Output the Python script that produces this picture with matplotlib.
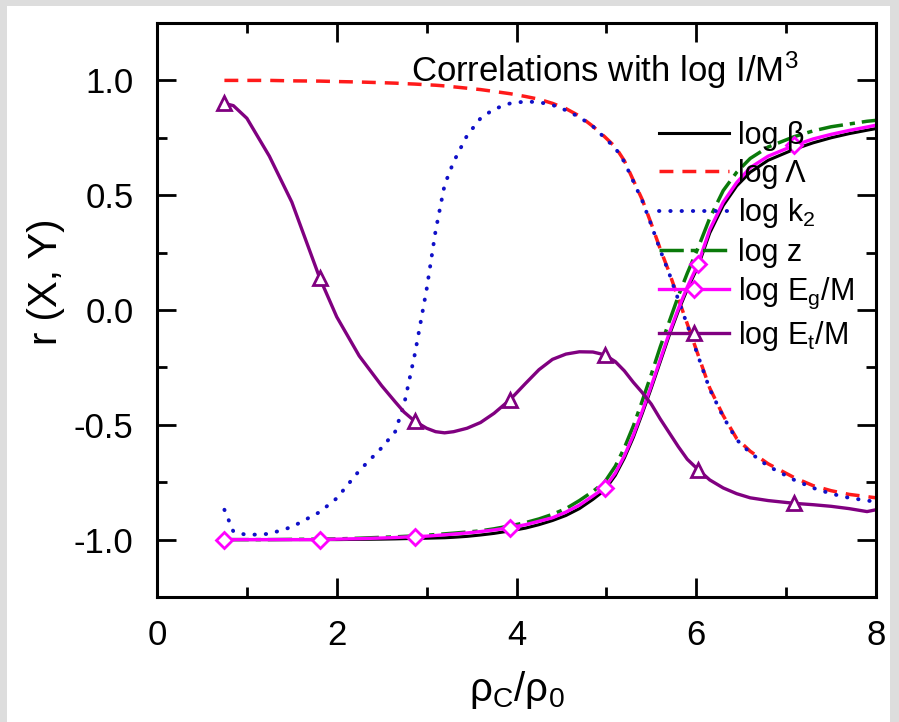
import numpy as np
import matplotlib
matplotlib.use("Agg")
import matplotlib.pyplot as plt
from matplotlib.patches import Rectangle

plt.rcParams['font.family'] = ['Liberation Sans', 'DejaVu Sans']
plt.rcParams['mathtext.fontset'] = 'custom'
plt.rcParams['mathtext.rm'] = 'Liberation Sans'
plt.rcParams['mathtext.it'] = 'Liberation Sans:italic'
plt.rcParams['mathtext.default'] = 'regular'

# rho_C / rho_0 grid
rho = [0.75, 0.85, 1.0, 1.25, 1.5, 1.81, 2.0, 2.25, 2.5, 2.65, 2.75, 2.87,
       3.0, 3.1, 3.2, 3.3, 3.45, 3.6, 3.75, 3.93, 4.1, 4.25, 4.4, 4.55,
       4.7, 4.85, 4.98, 5.1, 5.2, 5.3, 5.4, 5.5, 5.6, 5.7, 5.8, 5.9,
       6.02, 6.15, 6.3, 6.45, 6.6, 6.8, 7.09, 7.3, 7.5, 7.7, 7.9, 8.0]

# marker positions on the curves
mark_x = [0.75, 1.81, 2.87, 3.93, 4.98, 6.02, 7.09]

r_beta = [-1.0, -1.0, -1.0, -1.0, -1.0, -1.0, -1.0, -0.999, -0.998, -0.997, -0.996, -0.995,
          -0.994, -0.993, -0.992, -0.99, -0.986, -0.98, -0.973, -0.962, -0.95, -0.935, -0.917, -0.895,
          -0.865, -0.825, -0.785, -0.72, -0.645, -0.555, -0.45, -0.34, -0.225, -0.11, -0.005, 0.09,
          0.19, 0.335, 0.455, 0.54, 0.6, 0.652, 0.70, 0.728, 0.75, 0.768, 0.783, 0.79]

r_lambda = [1.0, 1.0, 1.0, 1.0, 0.998, 0.997, 0.995, 0.993, 0.99, 0.988, 0.986, 0.984,
            0.981, 0.979, 0.976, 0.972, 0.966, 0.96, 0.952, 0.942, 0.93, 0.918, 0.9, 0.877,
            0.845, 0.80, 0.755, 0.71, 0.65, 0.565, 0.48, 0.375, 0.265, 0.163, 0.05, -0.06,
            -0.195, -0.34, -0.46, -0.56, -0.615, -0.67, -0.73, -0.765, -0.787, -0.803, -0.813, -0.818]

r_k2 = [-0.87, -0.965, -0.98, -0.975, -0.945, -0.88, -0.82, -0.70, -0.60, -0.53, -0.41, -0.19,
        0.09, 0.345, 0.545, 0.645, 0.76, 0.835, 0.875, 0.9, 0.908, 0.905, 0.893, 0.87,
        0.84, 0.80, 0.75, 0.705, 0.645, 0.56, 0.475, 0.37, 0.26, 0.158, 0.045, -0.065,
        -0.2, -0.345, -0.465, -0.565, -0.622, -0.68, -0.74, -0.775, -0.80, -0.818, -0.83, -0.835]

r_z = [-1.0, -1.0, -1.0, -1.0, -0.999, -0.998, -0.997, -0.994, -0.99, -0.988, -0.986, -0.984,
       -0.981, -0.978, -0.975, -0.972, -0.967, -0.962, -0.953, -0.94, -0.926, -0.91, -0.89, -0.865,
       -0.83, -0.79, -0.75, -0.68, -0.60, -0.505, -0.395, -0.28, -0.16, -0.05, 0.06, 0.16,
       0.27, 0.40, 0.52, 0.60, 0.66, 0.71, 0.755, 0.78, 0.798, 0.81, 0.822, 0.826]

r_eg = [-1.0, -1.0, -1.0, -1.0, -1.0, -1.0, -0.998, -0.996, -0.993, -0.991, -0.989, -0.987,
        -0.985, -0.982, -0.979, -0.976, -0.971, -0.965, -0.958, -0.948, -0.935, -0.92, -0.905, -0.88,
        -0.85, -0.81, -0.775, -0.71, -0.635, -0.545, -0.44, -0.33, -0.215, -0.10, 0.005, 0.10,
        0.2, 0.35, 0.47, 0.555, 0.62, 0.67, 0.717, 0.745, 0.765, 0.782, 0.797, 0.805]

r_et = [0.90, 0.89, 0.835, 0.67, 0.47, 0.14, -0.03, -0.2, -0.33, -0.40, -0.445, -0.485,
        -0.515, -0.53, -0.535, -0.53, -0.515, -0.49, -0.45, -0.39, -0.32, -0.26, -0.215, -0.192,
        -0.182, -0.183, -0.195, -0.225, -0.265, -0.315, -0.36, -0.41, -0.475, -0.535, -0.595, -0.65,
        -0.695, -0.74, -0.775, -0.80, -0.818, -0.83, -0.842, -0.848, -0.855, -0.865, -0.878, -0.87]

x_ticks = [0, 2, 4, 6, 8]
y_ticks = [-1.0, -0.5, 0.0, 0.5, 1.0]


def main():
    fig = plt.figure(figsize=(8.99, 7.22), dpi=100, facecolor='#dddddd')
    # white page inside the grey frame
    fig.patches.append(Rectangle((7 / 899, 0), 883 / 899, 716 / 722,
                                 transform=fig.transFigure, facecolor='white',
                                 edgecolor='none', zorder=-10))
    ax = fig.add_axes([157 / 899, 1 - 597 / 722, 719 / 899, 574 / 722])
    ax.set_facecolor('white')

    marks = [i for i, v in enumerate(rho) if v in mark_x]

    ax.plot(rho, r_beta, color='black', lw=2.2, label=u'log \u03b2')
    ax.plot(rho, r_lambda, color='#ff1a1a', lw=2.5, ls=(0, (4, 2.6)), label=u'log \u039b')
    ax.plot(rho, r_k2, color='#1010c8', lw=2.8, ls=(0, (0.1, 2.8)),
            dash_capstyle='round', label='log k$_2$')
    ax.plot(rho, r_z, color='#0a7a0a', lw=2.5, ls=(0, (7, 2, 1.5, 2)), label='log z')
    ax.plot(rho, r_eg, color='#ff00ff', lw=2.4, marker='D', ms=8, mfc='white', mew=2,
            markevery=marks, label='log E$_g$/M')
    ax.plot(rho, r_et, color='#800080', lw=2.4, marker='^', ms=10, mfc='white', mew=2,
            markevery=marks, label='log E$_t$/M')

    ax.set_xlim(0, 8)
    ax.set_ylim(-1.25, 1.25)
    ax.set_xticks(x_ticks)
    ax.set_xticks([1, 3, 5, 7], minor=True)
    ax.set_yticks(y_ticks)
    ax.set_yticks([-0.75, -0.25, 0.25, 0.75], minor=True)
    ax.set_xticklabels([str(v) for v in x_ticks])
    ax.set_yticklabels(['%.1f' % v for v in y_ticks])

    ax.tick_params(which='both', direction='in', top=True, right=True, width=2.0,
                   labelsize=25)
    ax.tick_params(which='major', length=14)
    ax.tick_params(which='minor', length=7)
    ax.tick_params(axis='x', pad=16)
    ax.tick_params(axis='y', pad=17)
    for s in ax.spines.values():
        s.set_linewidth(2.2)

    ax.set_xlabel(u'\u03c1$_C$/\u03c1$_0$', fontsize=29)
    ax.xaxis.set_label_coords(0.5, -0.125)
    ax.set_ylabel('r (X, Y)', fontsize=29)
    ax.yaxis.set_label_coords(-0.128, 0.549)

    ax.text(2.83, 1.043, 'Correlations with log I/M$^3$', fontsize=25,
            ha='left', va='center')

    ax.legend(loc='upper left', bbox_to_anchor=(0.698, 0.829), frameon=False,
              fontsize=22, handlelength=2.3, handletextpad=0.3,
              labelspacing=0.25, borderpad=0, borderaxespad=0)

    fig.savefig('out.png', dpi=100, facecolor=fig.get_facecolor())


if __name__ == "__main__":
    main()
